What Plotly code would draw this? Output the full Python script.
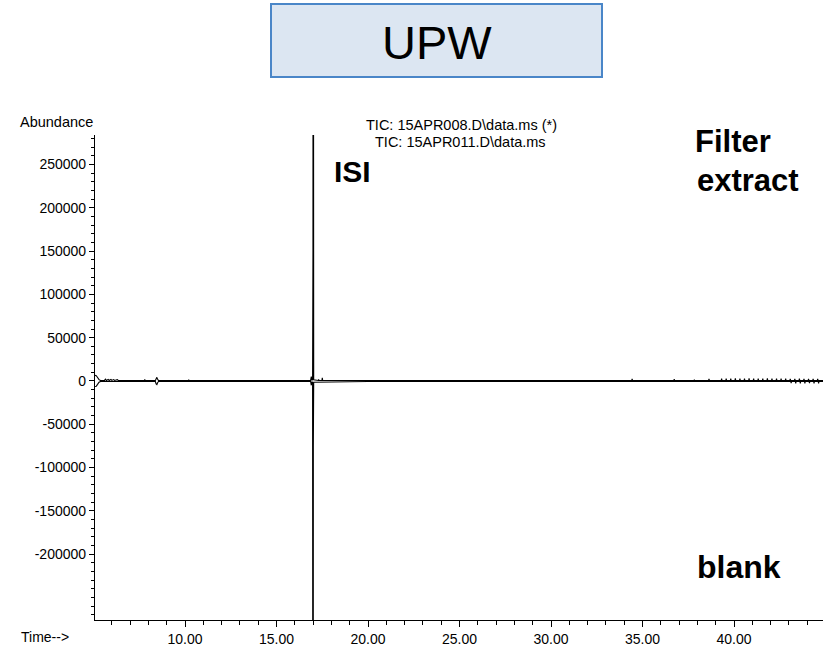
import plotly.graph_objects as go

# ---- data (time in min, abundance) ----
sample_time = [5.08, 5.15, 5.22, 5.30, 5.38, 5.60, 5.65, 5.70, 5.80, 5.85, 5.95, 6.00,
               6.10, 6.15, 6.30, 6.35, 7.78, 7.80, 7.82, 8.38, 8.42, 8.46, 8.50, 8.55,
               10.18, 10.20, 10.22, 13.00, 16.86, 16.90, 16.93, 16.97, 16.99, 17.00,
               17.01, 17.03, 17.28, 17.30, 17.32, 17.48, 17.50, 17.52, 20.00, 25.00,
               30.00, 34.41, 34.43, 34.45, 36.71, 36.73, 36.75, 37.81, 37.83, 37.85,
               38.61, 38.63, 38.65,
               39.30, 39.32, 39.34, 39.55, 39.57, 39.59, 39.80, 39.82, 39.84,
               40.05, 40.07, 40.09, 40.30, 40.32, 40.34, 40.55, 40.57, 40.59,
               40.80, 40.82, 40.84, 41.05, 41.07, 41.09, 41.30, 41.32, 41.34,
               41.55, 41.57, 41.59, 41.80, 41.82, 41.84, 42.05, 42.07, 42.09,
               42.30, 42.32, 42.34, 42.55, 42.57, 42.59, 42.80, 42.82, 42.84,
               43.05, 43.07, 43.09, 43.30, 43.32, 43.34, 43.55, 43.57, 43.59,
               43.80, 43.82, 43.84, 44.05, 44.07, 44.09, 44.30, 44.32, 44.34,
               44.55, 44.57, 44.59, 44.86]
sample_abund = [6500, 6000, 4000, 1500, 600, 600, 2000, 600, 1800, 600, 1800, 600,
                1600, 600, 1500, 600, 600, 1600, 600, 600, 3500, 4200, 2000, 600,
                600, 1500, 600, 600, 600, 5000, 600, 2000, 152000, 1200000,
                75000, 1500, 600, 1800, 600, 600, 3500, 600, 600, 600,
                600, 600, 2500, 600, 600, 2000, 600, 600, 1500, 600,
                600, 2500, 600,
                600, 2600, 600, 600, 2800, 600, 600, 2700, 600,
                600, 2900, 600, 600, 2800, 600, 600, 2700, 600,
                600, 2900, 600, 600, 2800, 600, 600, 2700, 600,
                600, 2800, 600, 600, 2900, 600, 600, 2700, 600,
                600, 2800, 600, 600, 2600, 600, 600, 2700, 600,
                600, 2500, 600, 600, 2400, 600, 600, 2600, 600,
                600, 2300, 600, 600, 2500, 600, 600, 2400, 600,
                600, 2300, 600, 600]

blank_time = [5.08, 5.15, 5.22, 5.30, 5.38, 6.00, 8.38, 8.42, 8.46, 8.50, 8.55,
              13.00, 16.86, 16.90, 16.93, 16.97, 16.99, 17.00, 17.01, 17.03,
              20.00, 30.00, 39.00, 43.00,
              43.10, 43.12, 43.14, 43.35, 43.37, 43.39, 43.60, 43.62, 43.64,
              43.85, 43.87, 43.89, 44.10, 44.12, 44.14, 44.35, 44.37, 44.39,
              44.60, 44.62, 44.64, 44.86]
blank_abund = [-6500, -6000, -4000, -1500, -600, -600, -600, -3500, -4200, -2000, -600,
               -600, -600, -5000, -600, -2000, -149000, -1200000, -74000, -1500,
               -600, -600, -600, -600,
               -600, -2600, -600, -600, -2800, -600, -600, -2700, -600,
               -600, -2900, -600, -600, -2600, -600, -600, -2800, -600,
               -600, -2700, -600, -600]

y_ticks = [-200000, -150000, -100000, -50000, 0, 50000, 100000, 150000, 200000, 250000]
x_ticks = [10, 15, 20, 25, 30, 35, 40]
x_tick_text = ["10.00", "15.00", "20.00", "25.00", "30.00", "35.00", "40.00"]

W, H = 823, 649
L, R, T, B = 95, 823, 135, 620


def px(x):
    return (x - L) / (R - L)


def py(y):
    return (B - y) / (B - T)


FONT = "Liberation Sans, Arial, sans-serif"

fig = go.Figure()
fig.add_trace(go.Scatter(x=sample_time, y=sample_abund, mode="lines",
                         line=dict(color="black", width=1.1), showlegend=False))
fig.add_trace(go.Scatter(x=blank_time, y=blank_abund, mode="lines",
                         line=dict(color="black", width=1.1), showlegend=False))

fig.update_layout(
    width=W, height=H,
    margin=dict(l=L, r=W - R, t=T, b=H - B, pad=0),
    paper_bgcolor="white", plot_bgcolor="white",
    font=dict(family=FONT, size=14, color="black"),
    xaxis=dict(range=[5.08, 44.86], showgrid=False, zeroline=False,
               showline=True, linecolor="black", linewidth=1.2,
               tickmode="array", tickvals=x_ticks, ticktext=x_tick_text,
               ticks="outside", ticklen=6, tickwidth=1, tickcolor="black",
               minor=dict(tickmode="linear", tick0=0, dtick=1, ticks="outside",
                          ticklen=4, tickcolor="black", tickwidth=1),
               tickfont=dict(size=14, family=FONT)),
    yaxis=dict(range=[-276000, 284000], showgrid=False, zeroline=False,
               showline=True, linecolor="black", linewidth=1.2,
               tickmode="array", tickvals=y_ticks,
               ticktext=[str(v) for v in y_ticks],
               ticks="outside", ticklen=5, tickwidth=1, tickcolor="black",
               minor=dict(tickmode="linear", tick0=0, dtick=10000, ticks="outside",
                          ticklen=3, tickcolor="black", tickwidth=1),
               tickfont=dict(size=14, family=FONT)),
)

# title box
fig.add_shape(type="rect", xref="paper", yref="paper",
              x0=px(271), x1=px(602), y0=py(77), y1=py(4),
              fillcolor="#dce6f2", line=dict(color="#4a86c8", width=2), layer="above")

ann = [
    dict(text="UPW", x=px(437), y=py(42), xanchor="center", yanchor="middle",
         font=dict(size=47, family=FONT)),
    dict(text="Abundance", x=px(95), y=py(122), xanchor="right", yanchor="middle",
         font=dict(size=14.5, family=FONT)),
    dict(text="Time-->", x=px(19), y=py(637), xanchor="left", yanchor="middle",
         font=dict(size=14, family=FONT)),
    dict(text="TIC: 15APR008.D\\data.ms (*)", x=px(461), y=py(125), xanchor="center",
         yanchor="middle", font=dict(size=14.5, family=FONT)),
    dict(text="TIC: 15APR011.D\\data.ms", x=px(460), y=py(142), xanchor="center",
         yanchor="middle", font=dict(size=14.5, family=FONT)),
    dict(text="<b>ISI</b>", x=px(332), y=py(172), xanchor="left", yanchor="middle",
         font=dict(size=30, family=FONT)),
    dict(text="<b>Filter</b>", x=px(693), y=py(142), xanchor="left", yanchor="middle",
         font=dict(size=31, family=FONT)),
    dict(text="<b>extract</b>", x=px(695), y=py(180), xanchor="left", yanchor="middle",
         font=dict(size=31, family=FONT)),
    dict(text="<b>blank</b>", x=px(695), y=py(567), xanchor="left", yanchor="middle",
         font=dict(size=32, family=FONT)),
]
for a in ann:
    fig.add_annotation(xref="paper", yref="paper", showarrow=False, **a)

fig.write_html("out.html",
               config={"displayModeBar": False},
               post_script="document.body.style.margin='0px';"
                           "document.body.style.overflow='hidden';")
